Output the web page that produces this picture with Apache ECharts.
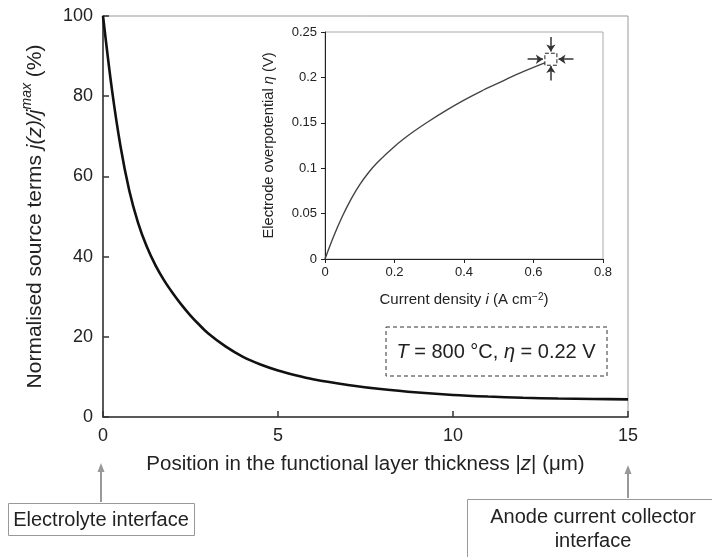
<!DOCTYPE html>
<html><head><meta charset="utf-8">
<script src="https://cdn.jsdelivr.net/npm/echarts@6/dist/echarts.min.js"></script>
<style>html,body{margin:0;padding:0;background:#fff}#c{width:712px;height:557px}</style>
</head><body><div id="c"></div>
<script>
// Main chart: normalised source term vs position in functional layer
const positionZ = [0, 0.25, 0.5, 0.75, 1, 1.25, 1.5, 1.75, 2, 2.25, 2.5, 2.75, 3, 3.5, 4, 4.5, 5, 5.5, 6, 7, 8, 9, 10, 11, 12, 13, 14, 15];
const sourceTerm = [100, 82, 67.5, 56.5, 48.5, 42.5, 37.8, 34.0, 30.8, 27.9, 25.3, 23.0, 20.9, 17.6, 15.0, 13.1, 11.6, 10.4, 9.4, 8.0, 6.9, 6.1, 5.5, 5.1, 4.8, 4.6, 4.5, 4.4];
// Inset: electrode overpotential vs current density
const currentDensity = [0, 0.025, 0.05, 0.075, 0.1, 0.125, 0.15, 0.2, 0.25, 0.3, 0.35, 0.4, 0.45, 0.5, 0.55, 0.6, 0.64];
const overpotential = [0, 0.025, 0.047, 0.066, 0.082, 0.095, 0.106, 0.124, 0.139, 0.152, 0.164, 0.175, 0.185, 0.194, 0.203, 0.211, 0.217];
const operatingPoint = [0.65, 0.22];
// Text
const mainXTitle = 'Position in the functional layer thickness |{i|z}| (μm)';
const mainYTitle = '{a|Normalised source terms }{b|j(z)/j}{c|max}{a| (%)}';
const insetXTitle = 'Current density {i|i} (A cm{s|−2})';
const insetYTitle = 'Electrode overpotential {i|η} (V)';
const conditionText = '{i|T} = 800 °C, {i|η} = 0.22 V';
const leftNote = 'Electrolyte interface';
const rightNote = 'Anode current collector\ninterface';

const FONT = 'Liberation Sans, Arial, Helvetica, sans-serif';
const TXT = '#222';

const chart = echarts.init(document.getElementById('c'), null, {renderer: 'canvas'});

const mainData = positionZ.map((z, k) => [z, sourceTerm[k]]);
const insetData = currentDensity.map((x, k) => [x, overpotential[k]]);
const [pi, pe] = operatingPoint;

function arrow(x, y1, y2) {
  return [
    {type: 'line', shape: {x1: x, y1: y1, x2: x, y2: y2 + 6}, style: {stroke: '#999', lineWidth: 2}},
    {type: 'polygon', shape: {points: [[x, y2], [x - 3.5, y2 + 9], [x + 3.5, y2 + 9]]}, style: {fill: '#999'}}
  ];
}

const option = {
  animation: false,
  backgroundColor: '#fff',
  textStyle: {fontFamily: FONT},
  grid: [
    {left: 103, right: 84, top: 16, bottom: 140, show: true, borderColor: '#999', borderWidth: 1},
    {left: 325, right: 109, top: 32, bottom: 298, show: true, borderColor: '#aaa', borderWidth: 1}
  ],
  xAxis: [
    {
      type: 'value', gridIndex: 0, min: 0, max: 15, interval: 5,
      axisLine: {lineStyle: {color: '#333', width: 1.5}},
      axisTick: {inside: true, length: 6, lineStyle: {color: '#333', width: 1.5}},
      axisLabel: {color: TXT, fontSize: 18, margin: 10, fontFamily: FONT},
      splitLine: {show: false},
      name: mainXTitle, nameLocation: 'middle', nameGap: 37,
      nameTextStyle: {color: TXT, fontSize: 20.5, fontFamily: FONT,
        rich: {i: {fontStyle: 'italic', fontSize: 20.5, color: TXT, fontFamily: FONT}}}
    },
    {
      type: 'value', gridIndex: 1, min: 0, max: 0.8, interval: 0.2,
      axisLine: {lineStyle: {color: '#222', width: 1}},
      axisTick: {inside: false, length: 4, lineStyle: {color: '#222'}},
      axisLabel: {color: TXT, fontSize: 13, margin: 7, fontFamily: FONT},
      splitLine: {show: false},
      name: insetXTitle, nameLocation: 'middle', nameGap: 33,
      nameTextStyle: {color: TXT, fontSize: 15, fontFamily: FONT,
        rich: {i: {fontStyle: 'italic', fontSize: 15, color: TXT, fontFamily: FONT},
               s: {fontSize: 10, verticalAlign: 'top', color: TXT, fontFamily: FONT}}}
    }
  ],
  yAxis: [
    {
      type: 'value', gridIndex: 0, min: 0, max: 100, interval: 20,
      axisLine: {lineStyle: {color: '#333', width: 1.5}},
      axisTick: {inside: true, length: 6, lineStyle: {color: '#333', width: 1.5}},
      axisLabel: {color: TXT, fontSize: 18, margin: 10, fontFamily: FONT},
      splitLine: {show: false},
      name: mainYTitle, nameLocation: 'middle', nameGap: 57,
      nameTextStyle: {color: TXT, fontSize: 21, fontFamily: FONT,
        rich: {
          a: {fontSize: 21, color: TXT, fontFamily: FONT, lineHeight: 26, verticalAlign: 'bottom'},
          b: {fontSize: 21, fontStyle: 'italic', color: TXT, fontFamily: FONT, lineHeight: 26, verticalAlign: 'bottom'},
          c: {fontSize: 14, fontStyle: 'italic', color: TXT, fontFamily: FONT, verticalAlign: 'top'}
        }}
    },
    {
      type: 'value', gridIndex: 1, min: 0, max: 0.25, interval: 0.05,
      axisLine: {lineStyle: {color: '#222', width: 1}},
      axisTick: {inside: false, length: 4, lineStyle: {color: '#222'}},
      axisLabel: {color: TXT, fontSize: 13, margin: 8, fontFamily: FONT},
      splitLine: {show: false},
      name: insetYTitle, nameLocation: 'middle', nameGap: 49,
      nameTextStyle: {color: TXT, fontSize: 14.7, fontFamily: FONT,
        rich: {i: {fontStyle: 'italic', fontSize: 14.7, color: TXT, fontFamily: FONT}}}
    }
  ],
  series: [
    {
      type: 'line', xAxisIndex: 0, yAxisIndex: 0, data: mainData, smooth: 0.3,
      showSymbol: false, lineStyle: {color: '#111', width: 2.6}, silent: true
    },
    {
      type: 'line', xAxisIndex: 1, yAxisIndex: 1, data: insetData, smooth: 0.3,
      showSymbol: false, lineStyle: {color: '#444', width: 1.4}, silent: true,
      markLine: {
        silent: true, symbol: ['none', 'arrow'], symbolSize: 7, precision: 4,
        lineStyle: {color: '#333', width: 1.5, type: 'solid'}, label: {show: false},
        emphasis: {disabled: true},
        data: [
          [{coord: [pi, pe + 0.0245]}, {coord: [pi, pe + 0.0085]}],
          [{coord: [pi, pe - 0.0235]}, {coord: [pi, pe - 0.0075]}],
          [{coord: [pi - 0.067, pe]}, {coord: [pi - 0.023, pe]}],
          [{coord: [pi + 0.065, pe]}, {coord: [pi + 0.022, pe]}]
        ]
      },
      markPoint: {
        silent: true, symbol: 'rect', symbolSize: 12, label: {show: false},
        itemStyle: {color: '#fff', borderColor: '#222', borderWidth: 1, borderType: 'dashed'},
        data: [{coord: operatingPoint}]
      }
    }
  ],
  graphic: [
    {type: 'rect', shape: {x: 386, y: 327, width: 221, height: 49},
     style: {fill: '#fff', stroke: '#333', lineWidth: 1, lineDash: [4, 3]}},
    {type: 'text', x: 496, y: 352,
     style: {text: conditionText, fontSize: 20, fontFamily: FONT, fill: TXT, align: 'center', verticalAlign: 'middle',
       rich: {i: {fontStyle: 'italic', fontSize: 20, fontFamily: FONT, fill: TXT}}}},
    ...arrow(101, 502, 463),
    {type: 'rect', shape: {x: 8.5, y: 503.5, width: 186, height: 32},
     style: {fill: '#fff', stroke: '#999', lineWidth: 1}},
    {type: 'text', x: 101, y: 520,
     style: {text: leftNote, fontSize: 20, fontFamily: FONT, fill: TXT, align: 'center', verticalAlign: 'middle'}},
    ...arrow(628, 498, 465),
    {type: 'rect', shape: {x: 467.5, y: 499.5, width: 260, height: 70},
     style: {fill: '#fff', stroke: '#999', lineWidth: 1}},
    {type: 'text', x: 593, y: 529,
     style: {text: rightNote, fontSize: 20, lineHeight: 24, fontFamily: FONT, fill: TXT, align: 'center', verticalAlign: 'middle'}}
  ]
};
chart.setOption(option);
</script>
</body></html>
